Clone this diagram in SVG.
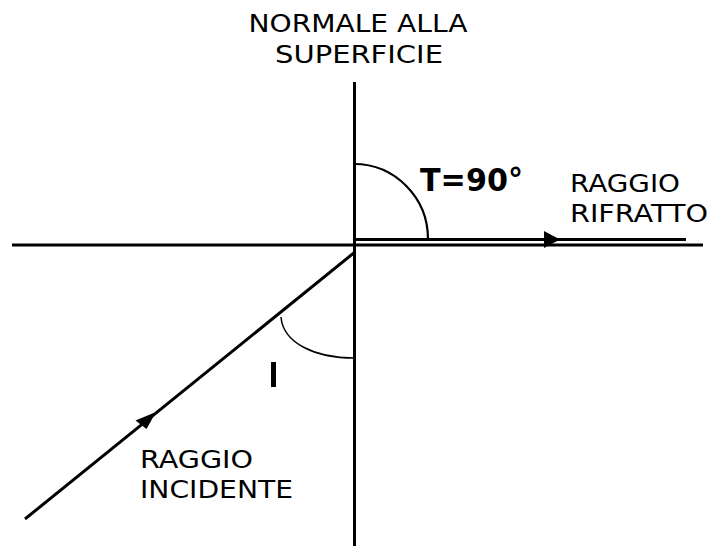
<svg xmlns="http://www.w3.org/2000/svg" width="716" height="546" viewBox="0 0 716 546">
<style>
.ln{stroke:#000;fill:none;stroke-width:3}
.thin{stroke:#000;fill:none;stroke-width:1.5}
.t{font-family:"DejaVu Sans",Verdana,sans-serif;font-size:25px;fill:#000}
.b{font-family:"DejaVu Sans",Verdana,sans-serif;font-weight:bold;fill:#000}
</style>
<rect width="716" height="546" fill="#fff"/>
<g id="connectors">
<line id="surface" class="ln" x1="12" y1="245" x2="703" y2="245"/>
<line id="normal" class="ln" x1="354.5" y1="82" x2="354.5" y2="546"/>
<line id="refracted" class="ln" x1="354" y1="239.5" x2="686" y2="239.5" stroke-width="2.5"/>
<polygon points="544,231 560,239.5 544,248" fill="#000"/>
<line id="incident" class="ln" x1="25" y1="519" x2="355" y2="252"/>
<polygon points="156,412 135.5,420.5 146.5,429" fill="#000"/>
<path id="arcT" d="M354,164 A74,75 0 0 1 428,239" stroke="#000" stroke-width="2.2" fill="none"/>
<path id="arcI" class="thin" d="M281,317 C283,343 315,358 354,358"/>
</g>
<g id="normale-label">
<text class="t" x="358" y="32" text-anchor="middle" textLength="219" lengthAdjust="spacingAndGlyphs">NORMALE ALLA</text>
<text class="t" x="359" y="63" text-anchor="middle" textLength="168" lengthAdjust="spacingAndGlyphs">SUPERFICIE</text>
</g>
<g id="angle-T">
<text class="b" x="420" y="191" font-size="32" textLength="103" lengthAdjust="spacingAndGlyphs">T=90°</text>
</g>
<g id="rifratto-label">
<text class="t" x="570" y="192" textLength="110" lengthAdjust="spacingAndGlyphs">RAGGIO</text>
<text class="t" x="570" y="222" textLength="138" lengthAdjust="spacingAndGlyphs">RIFRATTO</text>
</g>
<g id="angle-I">
<rect x="271" y="362" width="5" height="25" fill="#000"/>
</g>
<g id="incidente-label">
<text class="t" x="140" y="468" textLength="113" lengthAdjust="spacingAndGlyphs">RAGGIO</text>
<text class="t" x="140" y="498" textLength="153" lengthAdjust="spacingAndGlyphs">INCIDENTE</text>
</g>
</svg>
